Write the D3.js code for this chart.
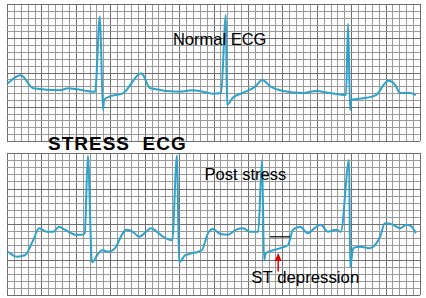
<!DOCTYPE html>
<html>
<head>
<meta charset="utf-8">
<script src="https://cdn.jsdelivr.net/npm/d3@7"></script>
<style>
  body { margin: 0; background: #fff; }
  svg { display: block; }
  text { font-family: "Liberation Sans", Arial, sans-serif; }
</style>
</head>
<body>
<div id="chart"></div>
<script>
// units: 1 small box = 40 ms horizontally, 0.1 mV vertically
// time in small boxes, amplitude in small boxes above the strip's lower edge

var normalT = [0, 2.0, 3.8, 7.7, 8.9, 9.9, 12.8, 13.5, 13.95, 14.1, 14.7, 16.9, 19.5, 20.8, 25.1, 26.9, 28.0,
  29.9, 31.1, 31.8, 31.96, 32.8, 34.7, 36.0, 37.1, 38.2, 40.1, 43.0, 44.9, 46.9, 49.25, 49.55, 49.85, 50.0,
  52.2, 53.6, 55.4, 56.4, 57.1, 58.6, 59.4]
var normalV = [8.3, 9.6, 7.7, 7.4, 7.7, 7.6, 7.2, 18.2, 4.5, 6.0, 6.4, 7.0, 9.9, 7.7, 7.2, 7.4, 7.3,
  6.9, 7.0, 18.4, 5.3, 6.3, 7.2, 7.9, 8.9, 8.0, 7.3, 7.0, 7.3, 7.0, 6.7, 17.1, 4.5, 6.0,
  6.3, 6.7, 8.8, 8.2, 7.0, 7.0, 6.7]

var stressT = [0.15, 1.45, 2.6, 3.8, 4.65, 5.8, 6.7, 7.55, 8.4, 9.9, 11.0, 11.3, 11.75, 12.35, 13.1, 13.8,
  14.7, 15.7, 16.7, 17.3, 18.3, 19.2, 20.2, 20.9, 21.8, 22.7, 24.0, 24.7, 25.0, 25.9, 27.0, 28.3, 29.2,
  29.9, 31.0, 32.1, 33.3, 34.3, 35.3, 36.5, 37.05, 37.35, 37.6, 38.65, 39.7, 40.8, 41.55, 42.6, 43.7,
  44.9, 45.6, 46.6, 47.8, 48.5, 49.7, 49.85, 50.3, 51.3, 52.7, 54.2, 54.9, 56.1, 57.1, 58.0, 58.7, 59.4]
var stressV = [6.1, 5.4, 5.6, 7.7, 9.4, 8.9, 8.9, 9.6, 9.2, 8.5, 8.5, 8.7, 19.6, 4.6, 5.6, 6.3,
  6.1, 6.6, 8.5, 9.2, 8.9, 8.2, 8.9, 9.4, 8.9, 8.2, 7.7, 19.7, 4.6, 5.6, 5.9, 6.3, 8.7,
  9.3, 8.6, 8.5, 9.2, 9.4, 8.9, 8.9, 19.0, 4.9, 5.9, 6.3, 6.6, 7.0, 9.2, 9.6, 8.7,
  9.6, 9.9, 8.9, 9.2, 8.9, 19.0, 3.9, 6.6, 6.8, 6.6, 8.2, 10.1, 9.9, 9.4, 9.9, 9.7, 8.7]

// ST annotation (same units as the stress strip)
var stRefLine = [38.2, 41.1, 8.2]      // x from, x to, level
var stArrow = [39.4, 5.9, 3.3]         // x, tip, tail
var stLabel = [35.5, 1.7, 'ST depression']

var W = 426, H = 298
var boxesX = 60, boxesY = 20

var svg = d3.select('#chart').append('svg')
  .attr('width', W)
  .attr('height', H)

function drawStrip(top, bottom, t, v) {
  var x = d3.scaleLinear().domain([0, boxesX]).range([7, 420])
  var y = d3.scaleLinear().domain([0, boxesY]).range([bottom, top])

  var g = svg.append('g')

  g.selectAll('.vgrid')
    .data(d3.range(0, boxesX + 1))
    .enter().append('line')
    .attr('x1', d => Math.round(x(d)) + 0.5).attr('x2', d => Math.round(x(d)) + 0.5)
    .attr('y1', top).attr('y2', bottom)
    .style('stroke', d => d % 5 === 0 ? '#6e6e6e' : '#9a9a9a')
    .style('stroke-width', 1)

  g.selectAll('.hgrid')
    .data(d3.range(0, boxesY + 1))
    .enter().append('line')
    .attr('y1', d => Math.round(y(d)) + 0.5).attr('y2', d => Math.round(y(d)) + 0.5)
    .attr('x1', x(0)).attr('x2', x(boxesX))
    .style('stroke', d => d % 5 === 0 ? '#6e6e6e' : '#9a9a9a')
    .style('stroke-width', 1)

  var line = d3.line()
    .x(d => x(d[0]))
    .y(d => y(d[1]))
    .curve(d3.curveMonotoneX)

  g.append('path')
    .datum(d3.zip(t, v))
    .attr('d', line)
    .style('fill', 'none')
    .style('stroke', '#2ea2cb')
    .style('stroke-width', 2)
    .style('stroke-linejoin', 'round')

  return {x: x, y: y, g: g}
}

var normal = drawStrip(4, 141, normalT, normalV)
var stress = drawStrip(153, 295, stressT, stressV)

normal.g.append('text')
  .attr('x', normal.x(24.1)).attr('y', normal.y(14))
  .style('font-size', '16.5px')
  .text('Normal ECG')

stress.g.append('text')
  .attr('x', stress.x(28.7)).attr('y', stress.y(16.2))
  .style('font-size', '16.5px')
  .text('Post stress')

// ST depression marker
stress.g.append('line')
  .attr('x1', stress.x(stRefLine[0])).attr('x2', stress.x(stRefLine[1]))
  .attr('y1', stress.y(stRefLine[2])).attr('y2', stress.y(stRefLine[2]))
  .style('stroke', 'black')
  .style('stroke-width', 1.2)

var ax = stress.x(stArrow[0]), tip = stress.y(stArrow[1]), tail = stress.y(stArrow[2])
stress.g.append('line')
  .attr('x1', ax).attr('x2', ax)
  .attr('y1', tip + 6).attr('y2', tail)
  .style('stroke', '#e00000')
  .style('stroke-width', 1.5)
stress.g.append('path')
  .attr('d', d3.line()([[ax, tip], [ax - 3.5, tip + 8], [ax + 3.5, tip + 8]]) + 'Z')
  .style('fill', '#e00000')

stress.g.append('text')
  .attr('x', stress.x(stLabel[0])).attr('y', stress.y(stLabel[1]))
  .style('font-size', '16.8px')
  .text(stLabel[2])

svg.append('text')
  .attr('x', 48).attr('y', 150)
  .style('font-size', '19px')
  .style('font-weight', 'bold')
  .style('letter-spacing', '1px')
  .style('white-space', 'pre')
  .text('STRESS  ECG')
</script>
</body>
</html>
